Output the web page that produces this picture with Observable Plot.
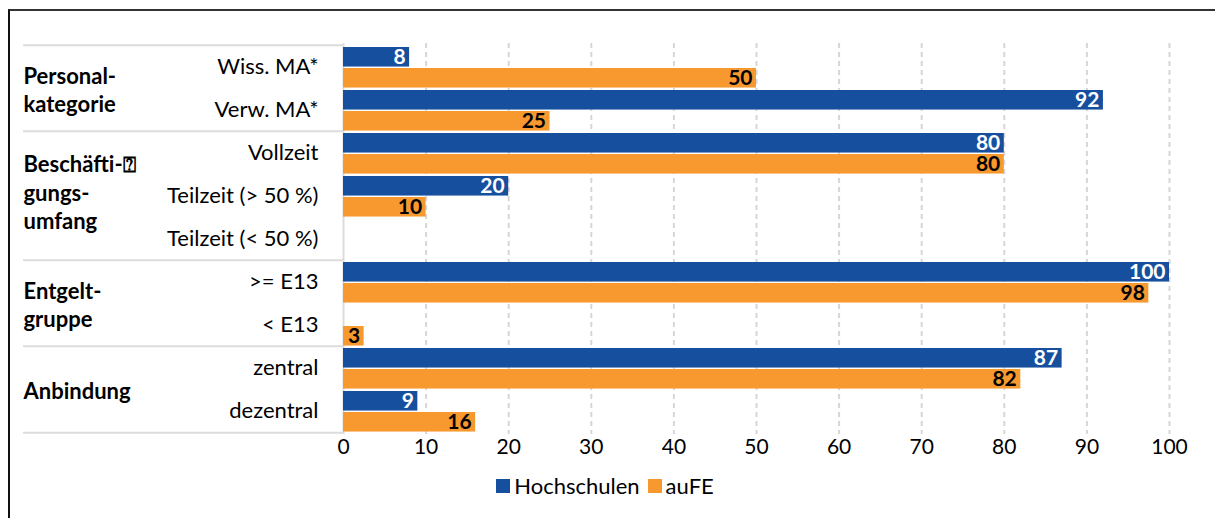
<!DOCTYPE html>
<html><head><meta charset="utf-8">
<script src="https://cdn.jsdelivr.net/npm/d3@7"></script>
<script src="https://cdn.jsdelivr.net/npm/@observablehq/plot@0.6"></script>
<style>
body{margin:0;background:#fff;font-family:Lato,sans-serif;width:1215px;height:518px;overflow:hidden;position:relative;}
#frame{position:absolute;left:8px;top:9px;width:1400px;height:600px;border-top:2px solid #333;border-left:2px solid #111;}
#chart{position:absolute;left:0;top:0;}
#legend{position:absolute;top:469px;left:0;width:1218px;display:flex;justify-content:center;}
#legend .plot-swatch, #legend span{margin-right:8px !important;}
#legend svg{margin-right:4px !important;}
</style></head><body>
<div id="frame"></div><div id="chart"></div><div id="legend"></div>
<script>
// ---- data ----
const categories = ["Wiss. MA*", "Verw. MA*", "Vollzeit", "Teilzeit (> 50 %)", "Teilzeit (< 50 %)", ">= E13", "< E13", "zentral", "dezentral"];
const hochschulen = [8, 92, 80, 20, null, 100, null, 87, 9];
const aufe = [50, 25, 80, 10, null, 97.5, 2.5, 82, 16];
const groupLabels = ["Personal-\nkategorie", "Beschäfti-⍰\ngungs-\numfang", "Entgelt-\ngruppe", "Anbindung"];
const groupFirst = ["Wiss. MA*", "Vollzeit", ">= E13", "zentral"];
const groupSpan = [2, 3, 2, 2];
const series = ["Hochschulen", "auFE"];
const colors = ["#174f9f", "#f7992e"];
const xTicks = [0, 10, 20, 30, 40, 50, 60, 70, 80, 90, 100];

// ---- layout ----
const W = 1215, H = 470;
const mL = 343, mR = 46, mT = 43, bottom = 434;
const bw = (bottom - mT) / categories.length;
const barH = 20;

const rows = categories.map((c, i) => ({category: c, hs: hochschulen[i], fe: aufe[i]}));
const hsRows = rows.filter(d => d.hs != null);
const feRows = rows.filter(d => d.fe != null);
const groups = groupLabels.map((l, i) => ({label: l, first: groupFirst[i], span: groupSpan[i]}));
const lastCat = [categories[categories.length - 1]];

const sepStyle = {stroke: "#dcdcdc", strokeWidth: 2, insetLeft: -(mL - 23), insetRight: W - mL - mR};

const plot = Plot.plot({
  width: W, height: H,
  marginLeft: mL, marginRight: mR, marginTop: mT, marginBottom: H - bottom,
  style: {fontFamily: "Lato, sans-serif", fontSize: "20px", color: "#000", background: "transparent", overflow: "visible"},
  x: {domain: [0, 100]},
  y: {domain: categories, padding: 0, axis: null},
  marks: [
    Plot.gridX(xTicks.slice(1), {stroke: "#d6d6d6", strokeOpacity: 1, strokeWidth: 2, strokeDasharray: "5,4"}),
    Plot.ruleX([0], {stroke: "#dcdcdc", strokeWidth: 2}),
    Plot.ruleY(groupFirst, {y: d => d, dy: -bw / 2, ...sepStyle}),
    Plot.ruleY(lastCat, {y: d => d, dy: bw / 2, ...sepStyle}),
    Plot.barX(hsRows, {x: "hs", y: "category", fill: colors[0], insetTop: 2, insetBottom: bw - 2 - barH}),
    Plot.barX(feRows, {x: "fe", y: "category", fill: colors[1], insetTop: 3 + barH, insetBottom: bw - 3 - 2 * barH}),
    Plot.text(hsRows, {x: "hs", y: "category", text: d => String(Math.round(d.hs)), textAnchor: "end", dx: -4, dy: 2 + barH / 2 - bw / 2, fill: "white", fontWeight: "bold", fontSize: 21}),
    Plot.text(feRows, {x: "fe", y: "category", text: d => String(Math.round(d.fe)), textAnchor: "end", dx: -4, dy: 3 + 1.5 * barH - bw / 2, fill: "black", fontWeight: "bold", fontSize: 21}),
    Plot.text(categories, {y: d => d, text: d => d, frameAnchor: "left", textAnchor: "end", dx: -25, fill: "black", fontSize: 22}),
    ...groups.map(g => Plot.text([g], {y: d => d.first, text: d => d.label, frameAnchor: "left", textAnchor: "start", dx: -(mL - 23), dy: (g.span - 1) * bw / 2 + (g.span > 2 ? -5 : 0), fill: "black", fontWeight: "bold", fontSize: 22, lineHeight: 1.3})),
    Plot.axisX({ticks: xTicks, tickSize: 0, tickPadding: 5, fontSize: 21, fill: "black"})
  ]
});
document.getElementById("chart").appendChild(plot);

const leg = Plot.legend({
  color: {type: "ordinal", domain: series, range: colors},
  legend: "swatches", swatchSize: 14,
  style: {fontFamily: "Lato, sans-serif", fontSize: "22px", color: "#000"}
});
document.getElementById("legend").appendChild(leg);
</script></body></html>
